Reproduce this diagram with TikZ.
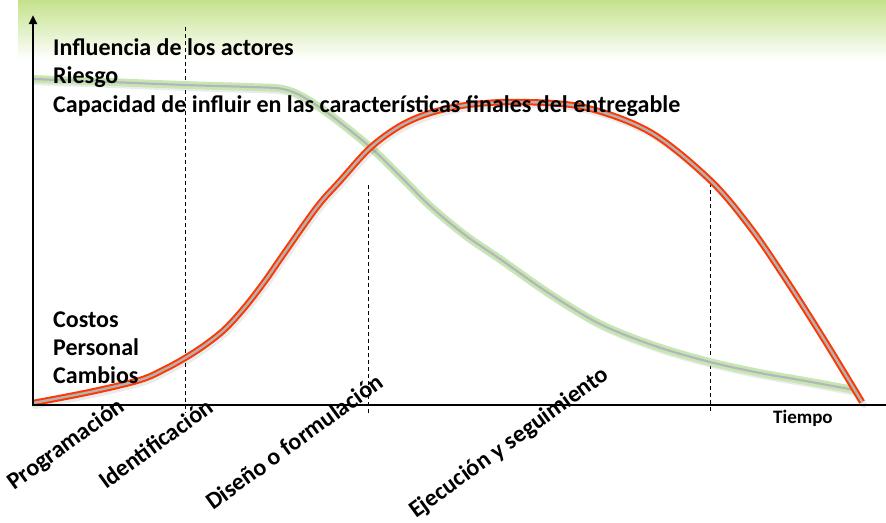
\documentclass[tikz,border=0pt]{standalone}
\usepackage{fontspec}
\setmainfont{Carlito}
\usetikzlibrary{arrows.meta}
\definecolor{bandgreen}{RGB}{196,226,140}
\definecolor{curvered}{RGB}{255,55,0}
\definecolor{redcore}{RGB}{178,178,178}
\definecolor{lightgreen}{RGB}{196,232,176}
\definecolor{greencore}{RGB}{184,180,190}
\tikzset{
  lbl/.style={font=\fontsize{24}{28}\selectfont\bfseries, inner sep=0pt, anchor=base west},
  phase/.style={lbl, rotate=36},
  guide/.style={black, line width=0.9pt, dash pattern=on 4pt off 3pt},
  axisline/.style={black, line width=2.6pt},
  redcurve/.style={draw=curvered, line width=2pt, double=redcore, double distance=2.4pt},
  greencurve/.style={draw=lightgreen, line width=2.8pt, double=greencore, double distance=2.2pt},
  curveshadow/.style={draw=black, opacity=0.08, line width=6pt, line cap=round},
}
\def\redpts{(33,403) (90,392) (140,380) (165,369) (185,358) (205,345) (225,329) (245,307) (265,281) (283,255) (317,207) (340,181) (370,148) (400,126) (430,113) (467,105) (517,102) (583,107) (650,132) (710,180) (750,227) (785,278) (825,341) (862,402)}
\def\greenpts{(33,79) (110,82) (185,85) (250,87) (283,89) (305,98) (333,117) (370,147) (400,176) (430,206) (465,235) (500,259) (550,294) (600,324) (655,346) (710,362) (760,373) (800,380) (855,390)}
\begin{document}
\begin{tikzpicture}[x=1pt,y=-1pt]
\useasboundingbox (0,0) rectangle (886,522);
% green band
\shade[top color=bandgreen, bottom color=white] (18,0) rectangle (886,60);
% coordinates
\coordinate (O) at (33,405);
\coordinate (ytop) at (33,15);
\coordinate (xend) at (886,405);
\coordinate (d1t) at (185,27); \coordinate (d1b) at (185,413);
\coordinate (d2t) at (368,185); \coordinate (d2b) at (368,413);
\coordinate (d3t) at (710,183); \coordinate (d3b) at (710,413);
% guides
\draw[guide] (d1t) -- (d1b);
\draw[guide] (d2t) -- (d2b);
\draw[guide] (d3t) -- (d3b);
% curves
\begin{scope}[shift={(2,3)}]
\draw[curveshadow] plot[smooth, tension=0.55] coordinates {\greenpts};
\end{scope}
\draw[greencurve] plot[smooth, tension=0.55] coordinates {\greenpts};
\begin{scope}[shift={(2,3)}]
\draw[curveshadow] plot[smooth, tension=0.55] coordinates {\redpts};
\end{scope}
\draw[redcurve] plot[smooth, tension=0.55] coordinates {\redpts};
% axes
\draw[axisline] (O) -- (xend);
\draw[black, line width=2.4pt, -{Triangle[length=9pt, width=8pt]}] (33,406) -- (ytop);
% texts
\node[lbl] (t1) at (53,55) {Influencia de los actores};
\node[lbl] (t2) at (53,83) {Riesgo};
\node[lbl] (t3) at (53,112) {Capacidad de influir en las características finales del entregable};
\node[lbl] (t4) at (53,327) {Costos};
\node[lbl] (t5) at (53,355) {Personal};
\node[lbl] (t6) at (53,383) {Cambios};
% axis labels
\node[font=\fontsize{19}{21}\selectfont\bfseries, inner sep=0pt, anchor=base west] (tiempo) at (773,423) {Tiempo};
\node[phase] (p1) at (14,491) {Programación};
\node[phase] (p2) at (106,490) {Identificación};
\node[phase] (p3) at (213,511) {Diseño o formulación};
\node[phase] (p4) at (416,519) {Ejecución y seguimiento};
\end{tikzpicture}
\end{document}
